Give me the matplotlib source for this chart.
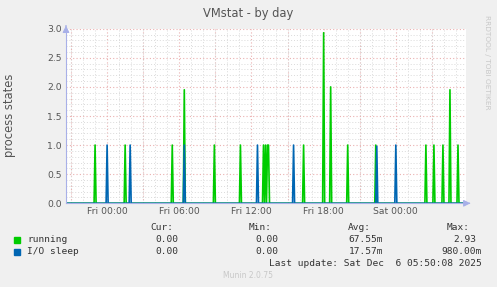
# Munin VMstat - by day
import matplotlib
matplotlib.use("Agg")
import matplotlib.pyplot as plt
from matplotlib.ticker import MultipleLocator, FixedLocator
import numpy as np

# hours relative to Fri 00:00, 5-minute samples
t_start = -3.4167   # Thu 20:35
t_end = 29.8333     # Sat 05:50
step = 1 / 12

# spikes: (hour, value)
running_spikes = [(-1.0, 1.0), (1.5, 1.0), (5.4167, 1.0), (6.4167, 1.95),
                  (8.9167, 1.0), (11.0833, 1.0), (13.0, 1.0), (13.1667, 1.0),
                  (13.3333, 1.0), (13.4167, 1.0), (16.3333, 1.0), (18.0, 2.93),
                  (18.5833, 2.0), (20.0, 1.0), (22.3333, 1.0), (26.5, 1.0),
                  (27.1667, 1.0), (27.9167, 1.0), (28.5, 1.95), (29.1667, 1.0)]
iosleep_spikes = [(0.0, 1.0), (1.9167, 1.0), (6.4167, 1.0), (12.5, 1.0),
                  (15.5, 1.0), (22.4167, 0.98), (24.0, 1.0)]

x_ticks = [0, 6, 12, 18, 24]
x_labels = ["Fri 00:00", "Fri 06:00", "Fri 12:00", "Fri 18:00", "Sat 00:00"]

legend_rows = [
    ("running", "#00CC00", "0.00", "0.00", "67.55m", "2.93"),
    ("I/O sleep", "#0066B3", "0.00", "0.00", "17.57m", "980.00m"),
]

times = np.arange(t_start, t_end + step / 2, step)


def series(spikes):
    vals = np.zeros_like(times)
    for h, v in spikes:
        vals[np.argmin(np.abs(times - h))] = v
    return vals


W, H = 497, 287
fig = plt.figure(figsize=(W / 100, H / 100), dpi=100, facecolor="#F0F0F0")
ax = fig.add_axes([66 / W, (H - 203.3) / H, 400 / W, 174.6 / H])
ax.set_facecolor("white")

ax.plot(times, series(running_spikes), color="#00CC00", lw=1.2)
ax.plot(times, series(iosleep_spikes), color="#0066B3", lw=1.2)

ax.set_xlim(t_start, t_end)
ax.set_ylim(0, 3.0)

# grid: minor grey, major red, dotted
ax.xaxis.set_minor_locator(MultipleLocator(1))
ax.xaxis.set_major_locator(FixedLocator(x_ticks))
ax.yaxis.set_major_locator(MultipleLocator(0.5))
ax.yaxis.set_minor_locator(MultipleLocator(0.1))
ax.grid(which="minor", color="#DADADA", ls=(0, (1, 2)), lw=0.7)
for h in np.arange(-3, 30, 3):
    ax.axvline(h, color="#EAB0B0", ls=(0, (1, 2)), lw=0.8, zorder=0.5)
for v in np.arange(0.5, 3.01, 0.5):
    ax.axhline(v, color="#EAB0B0", ls=(0, (1, 2)), lw=0.8, zorder=0.5)

ax.set_xticks(x_ticks)
ax.set_xticklabels(x_labels)
ax.set_yticks(np.arange(0, 3.01, 0.5))
ax.set_yticklabels(["%.1f" % v for v in np.arange(0, 3.01, 0.5)])
ax.tick_params(which="both", length=0, labelsize=6.7, labelcolor="#555555", pad=3)

for s in ["top", "right"]:
    ax.spines[s].set_visible(False)
ax.spines["left"].set_color("#A8B0E8")
ax.spines["bottom"].set_color("#A8B0E8")
ax.annotate("", xy=(t_end + 0.6, 0), xytext=(t_end, 0),
            arrowprops=dict(arrowstyle="-|>", color="#A8B0E8", lw=0.8),
            annotation_clip=False)
ax.annotate("", xy=(t_start, 3.1), xytext=(t_start, 3.0),
            arrowprops=dict(arrowstyle="-|>", color="#A8B0E8", lw=0.8),
            annotation_clip=False)

fig.text(248 / W, 1 - 14 / H, "VMstat - by day", ha="center", va="center",
         fontsize=8.3, color="#555555")
fig.text(10 / W, 1 - 115 / H, "process states", rotation=90, ha="center",
         va="center", fontsize=8.3, color="#555555")
fig.text(487 / W, 1 - 62 / H, "RRDTOOL / TOBI OETIKER", rotation=270,
         ha="center", va="center", fontsize=5.3, color="#C8C8C8")

mono = dict(family="DejaVu Sans Mono", fontsize=6.8, color="#333333", va="center")
for x, lbl in [(150, "Cur:"), (249, "Min:"), (348, "Avg:"), (447, "Max:")]:
    fig.text(x / W, 1 - 227 / H, lbl, **mono)
for i, (name, col, cur, mn, avg, mx) in enumerate(legend_rows):
    y = 1 - (240 + 12 * i) / H
    fig.patches.append(plt.Rectangle((14 / W, y - 3 / H), 6 / W, 6 / H,
                                     transform=fig.transFigure, color=col))
    fig.text(27 / W, y, name, **mono)
    fig.text(178 / W, y, cur, ha="right", **mono)
    fig.text(278 / W, y, mn, ha="right", **mono)
    fig.text(383 / W, y, avg, ha="right", **mono)
    if mx.endswith("m"):
        fig.text(482 / W, y, mx, ha="right", **mono)
    else:
        fig.text(476 / W, y, mx, ha="right", **mono)
fig.text(482 / W, 1 - 264 / H, "Last update: Sat Dec  6 05:50:08 2025",
         ha="right", **mono)
fig.text(248 / W, 1 - 276 / H, "Munin 2.0.75", ha="center", va="center",
         fontsize=5.5, color="#C8C8C8")

fig.savefig("out.png", dpi=100, facecolor=fig.get_facecolor())
